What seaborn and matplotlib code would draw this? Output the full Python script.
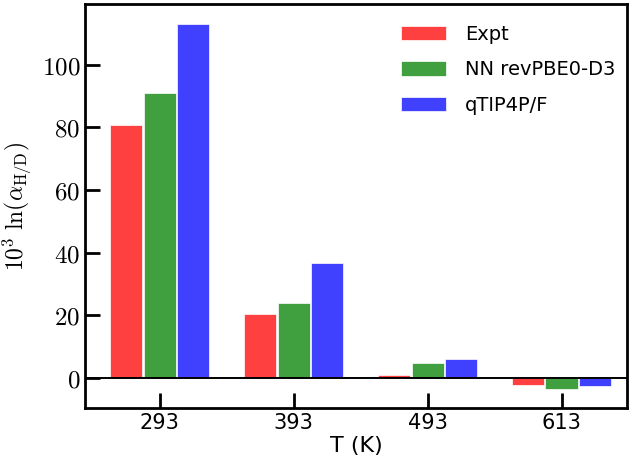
import numpy as np
import pandas as pd
import matplotlib
matplotlib.use("Agg")
import matplotlib.pyplot as plt
import seaborn as sns

# data
temps = ["293", "393", "493", "613"]
methods = ["Expt", "NN revPBE0-D3", "qTIP4P/F"]
expt = [80.7, 20.4, 0.8, -2.4]
nn_revpbe0 = [90.9, 24.0, 4.7, -3.4]
qtip4pf = [113.1, 36.7, 6.1, -2.6]
colors = ["#ff4040", "#40a040", "#4040ff"]

df = pd.DataFrame({
    "T": temps * 3,
    "method": [m for m in methods for _ in temps],
    "value": expt + nn_revpbe0 + qtip4pf,
})

sns.set_style("ticks", {"axes.edgecolor": "black", "xtick.color": "black",
                        "ytick.color": "black", "text.color": "black",
                        "axes.labelcolor": "black"})
plt.rcParams["font.family"] = ["DejaVu Sans"]
plt.rcParams["mathtext.fontset"] = "cm"

fig, ax = plt.subplots(figsize=(6.29, 4.65), dpi=100)
fig.subplots_adjust(left=0.135, right=0.997, top=0.991, bottom=0.1226)

sns.barplot(data=df, x="T", y="value", hue="method", hue_order=methods,
            palette=colors, width=0.75, gap=0.04, edgecolor="#ffffff",
            linewidth=0.5, saturation=1, errorbar=None, ax=ax)

ax.axhline(0, color="black", lw=1.4)
ax.set_xlim(-0.56, 3.49)
ax.set_ylim(-9.6, 119.3)

yt = [0, 20, 40, 60, 80, 100]
ax.set_yticks(yt)
ax.set_yticklabels([f"${v}$" for v in yt], fontsize=18)
ax.tick_params(axis="x", labelsize=15)
ax.tick_params(direction="in", length=11, width=2, right=False, top=False,
               colors="black")

for s in ax.spines.values():
    s.set_linewidth(2)
    s.set_color("black")
    s.set_visible(True)

ax.set_xlabel("T (K)", fontsize=16, labelpad=2, color="black")
ax.set_ylabel(r"$10^3\ \ln(\alpha_{\rm H/D})$", fontsize=17, labelpad=6,
              color="black")

leg = ax.legend(loc="upper right", bbox_to_anchor=(1.0, 0.978),
                frameon=False, fontsize=14,
                handlelength=2.3, handleheight=0.75, labelspacing=0.85,
                handletextpad=1.0, borderaxespad=0.2)

fig.savefig("out.png", dpi=100)
